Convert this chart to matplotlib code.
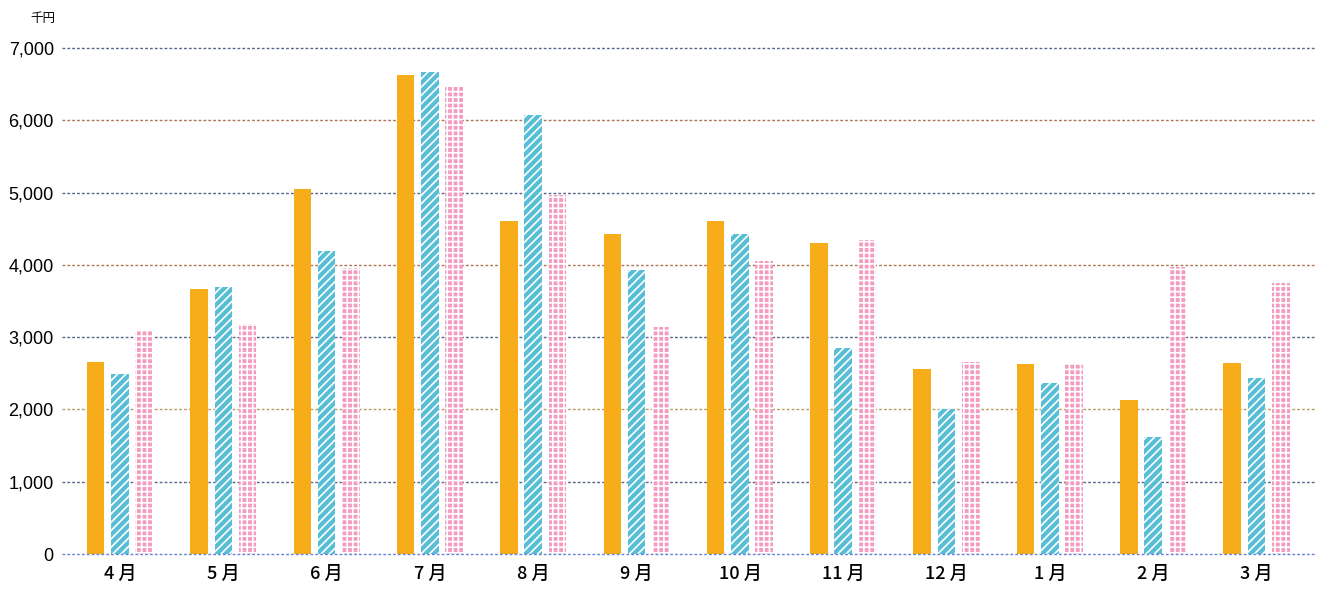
import matplotlib
matplotlib.use("Agg")
import matplotlib.pyplot as plt
import numpy as np

plt.rcParams['font.family'] = ['Noto Sans CJK JP', 'DejaVu Sans']
plt.rcParams['hatch.linewidth'] = 1.2

months = ['4月', '5月', '6月', '7月', '8月', '9月', '10月', '11月', '12月', '1月', '2月', '3月']
series_a = [2655, 3665, 5050, 6625, 4605, 4425, 4605, 4300, 2560, 2630, 2130, 2640]
series_b = [2490, 3690, 4190, 6665, 6070, 3930, 4425, 2850, 2005, 2365, 1620, 2435]
series_c = [3085, 3180, 3955, 6460, 4965, 3140, 4050, 4340, 2655, 2630, 3970, 3750]
yticks = [0, 1000, 2000, 3000, 4000, 5000, 6000, 7000]

fig = plt.figure(figsize=(13.22, 5.91), dpi=100)
ax = fig.add_axes([0.047, 0.0626, 0.948, 0.8562])

x = np.arange(len(months))
w = 0.17
off = 0.235

ax.bar(x - off, series_a, w, color='#F7AC1A', linewidth=0, zorder=3)
ax.bar(x, series_b, w, facecolor='#58BED6', edgecolor='white', hatch='////', linewidth=0, zorder=3)
ax.bar(x + off, series_c, w, facecolor='#F39CC0', edgecolor='white', hatch='+++', linewidth=0, zorder=3)

ax.set_xlim(-0.56, 11.57)
ax.set_ylim(0, 7000)
ax.set_yticks(yticks)
ax.set_yticklabels([f'{v:,}' for v in yticks], fontsize=13,
                   family=['Liberation Sans Narrow', 'Liberation Sans', 'DejaVu Sans'])
ax.set_xticks(x)
ax.set_xticklabels([m.replace('月', ' 月') for m in months], fontsize=13, fontweight='medium')
ax.tick_params(length=0, pad=8)
ax.tick_params(axis='y', pad=6)

grid_colors = ['#4a6fd0', '#3d4a7a', '#b08a4a', '#3d4a7a', '#a0603a', '#3d4a7a', '#a0603a', '#3d4a7a']
for v, c in zip(yticks, grid_colors):
    ax.axhline(v, color=c, linewidth=1.0, linestyle=(0, (2, 1.5)),
               zorder=4 if v == 0 else 1, alpha=0.85, clip_on=False)

for s in ax.spines.values():
    s.set_visible(False)

fig.text(0.0227, 0.968, '千円', fontsize=9, ha='left', va='center')

fig.savefig('out.png', dpi=100)
